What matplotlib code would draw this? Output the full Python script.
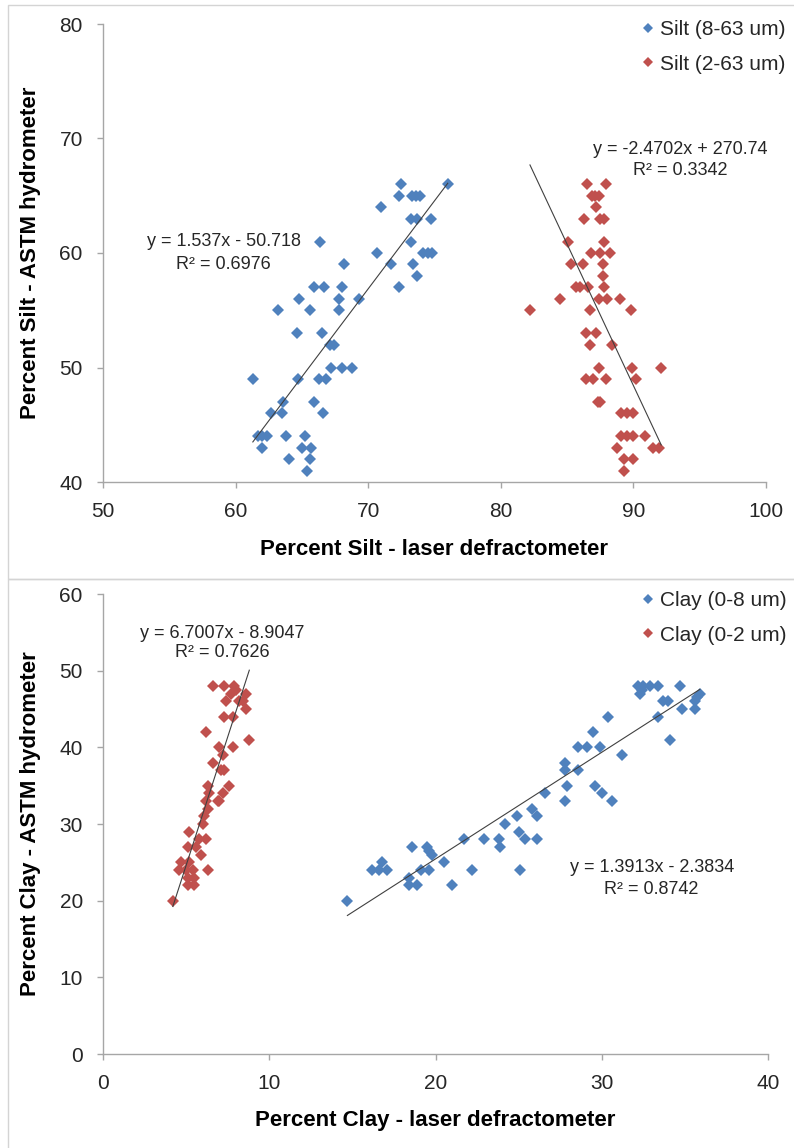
import matplotlib.pyplot as plt
from matplotlib.lines import Line2D
from matplotlib.patches import Rectangle
import numpy as np

plt.rcParams['font.family'] = ['Liberation Sans', 'DejaVu Sans']

# --- top chart: silt ---
silt_863_laser = [76, 72.5, 72.3, 73.3, 73.6, 73.9, 71, 73.2, 73.7, 74.7, 66.4, 73.2, 70.7,
                  74.1, 74.5, 74.8, 68.2, 71.7, 73.4, 73.7, 65.9, 66.7, 68, 72.3, 64.8, 67.8,
                  69.3, 63.2, 65.6, 67.8, 64.6, 66.5, 67.1, 67.4, 67.2, 68, 68.8, 61.3, 64.7,
                  66.3, 66.8, 63.6, 65.9, 62.7, 63.5, 66.6, 61.7, 62, 62.4, 63.8, 65.2, 62,
                  65, 65.7, 64, 65.6, 65.4]
silt_863_astm = [66, 66, 65, 65, 65, 65, 64, 63, 63, 63, 61, 61, 60,
                 60, 60, 60, 59, 59, 59, 58, 57, 57, 57, 57, 56, 56,
                 56, 55, 55, 55, 53, 53, 52, 52, 50, 50, 50, 49, 49,
                 49, 49, 47, 47, 46, 46, 46, 44, 44, 44, 44, 44, 43,
                 43, 43, 42, 42, 41]

silt_263_laser = [86.5, 87.9, 86.9, 87.1, 87.4, 87.2, 86.3, 87.5, 87.8, 85.1, 87.8, 86.8,
                  87.5, 88.2, 85.3, 86.2, 87.7, 87.7, 85.7, 86, 86.6, 87.8, 84.5, 87.4,
                  88, 89, 82.2, 86.7, 89.8, 86.4, 87.2, 86.7, 88.4, 87.4, 89.9, 92.1,
                  86.4, 86.95, 87.9, 90.2, 87.3, 87.5, 89.1, 89.5, 90, 89.1, 89.5, 90,
                  90.9, 88.8, 91.5, 91.9, 89.3, 90, 89.3]
silt_263_astm = [66, 66, 65, 65, 65, 64, 63, 63, 63, 61, 61, 60,
                 60, 60, 59, 59, 59, 58, 57, 57, 57, 57, 56, 56,
                 56, 56, 55, 55, 55, 53, 53, 52, 52, 50, 50, 50,
                 49, 49, 49, 49, 47, 47, 46, 46, 46, 44, 44, 44,
                 44, 43, 43, 43, 42, 42, 41]

# --- bottom chart: clay ---
clay_08_laser = [14.7, 16.2, 16.6, 17.1, 16.8, 18.6, 19.5, 19.6, 19.8, 19.1, 19.6, 18.4,
                 18.4, 18.9, 20.5, 21, 21.7, 22.2, 22.9, 23.8, 23.9, 24.2, 24.9, 25,
                 25.1, 25.4, 25.8, 26.1, 26.1, 26.6, 27.8, 27.8, 27.9, 27.8, 28.6, 28.6,
                 29.1, 29.5, 29.9, 29.6, 30, 30.6, 30.4, 31.2, 32.2, 32.5, 32.9, 33.4,
                 32.3, 32.4, 34.7, 33.7, 34, 33.4, 34.1, 34.8, 35.6, 35.6, 35.9, 35.7]
clay_08_astm = [20, 24, 24, 24, 25, 27, 27, 26.5, 26, 24, 24, 23,
                22, 22, 25, 22, 28, 24, 28, 28, 27, 30, 31, 29,
                24, 28, 32, 31, 28, 34, 38, 37, 35, 33, 37, 40,
                40, 42, 40, 35, 34, 33, 44, 39, 48, 48, 48, 48,
                47, 47.5, 48, 46, 46, 44, 41, 45, 45, 46, 47, 46.6]

clay_02_laser = [6.6, 7.3, 7.9, 8.0, 8.6, 7.7, 7.4, 8.2, 8.4, 8.6, 7.3, 7.8, 6.2,
                 8.8, 7.0, 7.8, 7.2, 6.6, 7.3, 7.1, 7.6, 6.3, 6.4, 7.2, 7.0, 6.2,
                 6.9, 6.3, 6.1, 6.0, 5.2, 6.2, 5.8, 5.1, 5.6, 5.9, 4.7, 5.2, 4.6,
                 5.0, 5.4, 6.3, 5.1, 5.5, 5.1, 5.5, 4.2]
clay_02_astm = [48, 48, 48, 47.5, 47, 47, 46, 46, 46, 45, 44, 44, 42,
                41, 40, 40, 39, 38, 37, 37, 35, 35, 34, 34, 33, 33,
                33, 32, 31, 30, 29, 28, 28, 27, 27, 26, 25, 25, 24,
                24, 24, 24, 23, 23, 22, 22, 20]

# trendline coefficients (slope, intercept) as shown on the chart
fit_silt_863 = (1.537, -50.718)
fit_silt_263 = (-2.4702, 270.74)
fit_clay_08 = (1.3913, -2.3834)
fit_clay_02 = (6.7007, -8.9047)

blue = '#4F81BD'
red = '#C0504D'
axcol = '#A6A6A6'

fig = plt.figure(figsize=(7.94, 11.48), dpi=100)

# chart area borders
fig.add_artist(Rectangle((8/794, 1-579/1148), 1.0, 574/1148, transform=fig.transFigure,
                         fill=False, ec='#D4D4D4', lw=1))
fig.add_artist(Rectangle((8/794, -0.01), 1.0, 569/1148 + 0.01, transform=fig.transFigure,
                         fill=False, ec='#D4D4D4', lw=1))

ax1 = fig.add_axes([103/794, 1-482/1148, 663/794, 458/1148])
ax2 = fig.add_axes([103/794, 1-1054/1148, 665/794, 460/1148])


def trend(ax, xs, fit):
    xx = np.array([min(xs), max(xs)])
    ax.plot(xx, fit[0]*xx + fit[1], color='#404040', lw=0.8, zorder=3)


def style(ax):
    for s in ['top', 'right']:
        ax.spines[s].set_visible(False)
    for s in ['left', 'bottom']:
        ax.spines[s].set_color(axcol)
        ax.spines[s].set_linewidth(1)
    ax.tick_params(colors=axcol, labelcolor='#262626', labelsize=15, length=4.5,
                   width=1, pad=10)


ax1.plot(silt_863_laser, silt_863_astm, 'D', color=blue, ms=6.6, mew=0, zorder=2)
ax1.plot(silt_263_laser, silt_263_astm, 'D', color=red, ms=6.6, mew=0, zorder=2)
trend(ax1, silt_863_laser, fit_silt_863)
trend(ax1, silt_263_laser, fit_silt_263)
ax1.set_xlim(50, 100)
ax1.set_ylim(40, 80)
ax1.set_xticks([50, 60, 70, 80, 90, 100])
ax1.set_yticks([40, 50, 60, 70, 80])
style(ax1)
ax1.set_xlabel('Percent Silt - laser defractometer', fontsize=16, fontweight='bold', labelpad=13)
ax1.set_ylabel('Percent Silt - ASTM hydrometer', fontsize=16, fontweight='bold', labelpad=13)
ax1.text(59.1, 61.0, 'y = 1.537x - 50.718', fontsize=13, ha='center', va='center', color='#262626')
ax1.text(59.1, 59.0, 'R² = 0.6976', fontsize=13, ha='center', va='center', color='#262626')
ax1.text(93.5, 69.0, 'y = -2.4702x + 270.74', fontsize=13, ha='center', va='center',
         color='#262626', clip_on=False)
ax1.text(93.5, 67.2, 'R² = 0.3342', fontsize=13, ha='center', va='center', color='#262626')

ax2.plot(clay_08_laser, clay_08_astm, 'D', color=blue, ms=6.6, mew=0, zorder=2)
ax2.plot(clay_02_laser, clay_02_astm, 'D', color=red, ms=6.6, mew=0, zorder=2)
trend(ax2, clay_08_laser, fit_clay_08)
trend(ax2, clay_02_laser, fit_clay_02)
ax2.set_xlim(0, 40)
ax2.set_ylim(0, 60)
ax2.set_xticks([0, 10, 20, 30, 40])
ax2.set_yticks([0, 10, 20, 30, 40, 50, 60])
style(ax2)
ax2.set_xlabel('Percent Clay - laser defractometer', fontsize=16, fontweight='bold', labelpad=12)
ax2.set_ylabel('Percent Clay - ASTM hydrometer', fontsize=16, fontweight='bold', labelpad=13)
ax2.text(7.16, 54.9, 'y = 6.7007x - 8.9047', fontsize=13, ha='center', va='center', color='#262626')
ax2.text(7.16, 52.4, 'R² = 0.7626', fontsize=13, ha='center', va='center', color='#262626')
ax2.text(33.0, 24.3, 'y = 1.3913x - 2.3834', fontsize=13, ha='center', va='center', color='#262626')
ax2.text(33.0, 21.5, 'R² = 0.8742', fontsize=13, ha='center', va='center', color='#262626')


def legend(ax, labels, ytop):
    h = [Line2D([], [], ls='none', marker='D', color=blue, ms=5, mew=0),
         Line2D([], [], ls='none', marker='D', color=red, ms=5, mew=0)]
    ax.legend(h, labels, loc='upper left', bbox_to_anchor=(643/794, ytop),
              bbox_transform=fig.transFigure, frameon=False, fontsize=15,
              handlelength=0.5, handletextpad=0.3, labelspacing=0.75,
              borderpad=0, borderaxespad=0, labelcolor='#262626')


legend(ax1, ['Silt (8-63 um)', 'Silt (2-63 um)'], 1-20/1148)
legend(ax2, ['Clay (0-8 um)', 'Clay (0-2 um)'], 1-591/1148)

plt.savefig('out.png', dpi=100)
